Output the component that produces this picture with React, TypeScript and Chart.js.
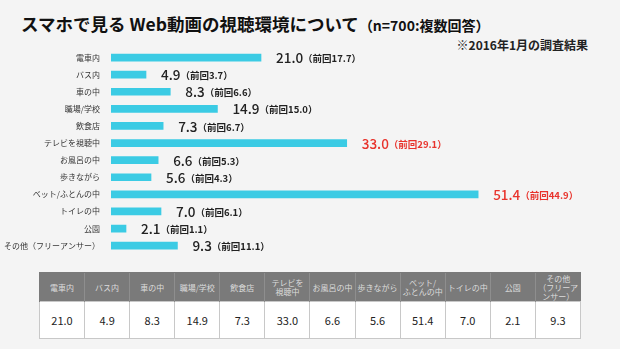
import React, { useEffect, useRef } from "react";
import { Chart, registerables } from "chart.js";

Chart.register(...registerables);

const categories = [
  "電車内",
  "バス内",
  "車の中",
  "職場/学校",
  "飲食店",
  "テレビを視聴中",
  "お風呂の中",
  "歩きながら",
  "ベット/ふとんの中",
  "トイレの中",
  "公園",
  "その他（フリーアンサー）",
];
const current = [21.0, 4.9, 8.3, 14.9, 7.3, 33.0, 6.6, 5.6, 51.4, 7.0, 2.1, 9.3];
const previous = [17.7, 3.7, 6.6, 15.0, 6.7, 29.1, 5.3, 4.3, 44.9, 6.1, 1.1, 11.1];
const tableHeaders = [
  ["電車内"],
  ["バス内"],
  ["車の中"],
  ["職場/学校"],
  ["飲食店"],
  ["テレビを", "視聴中"],
  ["お風呂の中"],
  ["歩きながら"],
  ["ベット/", "ふとんの中"],
  ["トイレの中"],
  ["公園"],
  ["その他", "（フリーア", "ンサー）"],
];
const HIGHLIGHT_THRESHOLD = 30;

const FONT = '"Noto Sans CJK JP", "Noto Sans", sans-serif';

const valueLabelPlugin = {
  id: "valueLabels",
  afterDatasetsDraw(chart: any) {
    const ctx = chart.ctx;
    const meta = chart.getDatasetMeta(0);
    ctx.save();
    ctx.textBaseline = "middle";
    ctx.textAlign = "left";
    meta.data.forEach((bar: any, i: number) => {
      const v = current[i];
      const color = v > HIGHLIGHT_THRESHOLD ? "#e8332c" : "#222222";
      ctx.fillStyle = color;
      const x = bar.x + 15;
      const y = bar.y + 0.5;
      ctx.font = `500 13.5px ${FONT}`;
      const num = v.toFixed(1);
      ctx.fillText(num, x, y);
      const w = ctx.measureText(num).width;
      ctx.font = `bold 9.5px ${FONT}`;
      ctx.fillText(`（前回${previous[i].toFixed(1)}）`, x + w, y + 0.5);
    });
    ctx.restore();
  },
};

export default function App() {
  const canvasRef = useRef<HTMLCanvasElement | null>(null);

  useEffect(() => {
    document.body.style.margin = "0";
    const canvas = canvasRef.current!;
    const chart = new Chart(canvas, {
      type: "bar",
      data: {
        labels: categories,
        datasets: [
          {
            data: current,
            backgroundColor: "#3bcbe4",
            barThickness: 7,
            borderWidth: 0,
          },
        ],
      },
      options: {
        indexAxis: "y",
        animation: false,
        responsive: false,
        maintainAspectRatio: false,
        layout: { padding: { top: 49, bottom: 6, left: 0, right: 9 } },
        plugins: {
          legend: { display: false },
          tooltip: { enabled: false },
          title: { display: false },
        },
        scales: {
          x: {
            display: false,
            min: 0,
            max: 70,
          },
          y: {
            afterFit: (s: any) => {
              s.width = 111;
            },
            grid: { display: false, drawTicks: false },
            border: { display: false },
            ticks: {
              padding: 11,
              color: "#333333",
              font: { size: 8, family: FONT },
              autoSkip: false,
            },
          },
        },
      },
      plugins: [valueLabelPlugin],
    });
    return () => chart.destroy();
  }, []);

  const cellBorder = "1px solid #c8c8c8";

  return (
    <div
      style={{
        position: "fixed",
        left: 0,
        top: 0,
        width: 620,
        height: 349,
        background: "#f4f4f4",
        fontFamily: FONT,
        overflow: "hidden",
      }}
    >
      <div
        style={{
          position: "absolute",
          left: 21,
          top: 11,
          whiteSpace: "nowrap",
          color: "#111",
          fontWeight: 700,
          fontSize: 17.5,
          lineHeight: "26px",
        }}
      >
        スマホで見る Web動画の視聴環境について
        <span style={{ fontSize: 14 }}>（n=700:複数回答）</span>
      </div>
      <div
        style={{
          position: "absolute",
          right: 32,
          top: 36,
          whiteSpace: "nowrap",
          color: "#222",
          fontWeight: 700,
          fontSize: 12,
          lineHeight: "18px",
        }}
      >
        ※2016年1月の調査結果
      </div>
      <canvas
        ref={canvasRef}
        width={620}
        height={270}
        style={{ position: "absolute", left: 0, top: 0, width: 620, height: 270 }}
      />
      <table
        style={{
          position: "absolute",
          left: 39,
          top: 272,
          width: 542,
          borderCollapse: "collapse",
          tableLayout: "fixed",
        }}
      >
        <tbody>
          <tr style={{ height: 29 }}>
            {tableHeaders.map((h, i) => (
              <th
                key={i}
                style={{
                  background: "#7a7a7a",
                  color: "#dcdcdc",
                  fontSize: 8,
                  fontWeight: 400,
                  lineHeight: "9px",
                  padding: 0,
                  textAlign: "center",
                  borderLeft: i === 0 ? "1px solid #7a7a7a" : "1px solid #8e8e8e",
                  borderTop: "1px solid #7a7a7a",
                }}
              >
                {h.map((line, j) => (
                  <div key={j}>{line}</div>
                ))}
              </th>
            ))}
          </tr>
          <tr style={{ height: 37 }}>
            {current.map((v, i) => (
              <td
                key={i}
                style={{
                  background: "#ffffff",
                  color: "#222",
                  fontSize: 11,
                  textAlign: "center",
                  padding: 0,
                  border: cellBorder,
                }}
              >
                {v.toFixed(1)}
              </td>
            ))}
          </tr>
        </tbody>
      </table>
    </div>
  );
}
